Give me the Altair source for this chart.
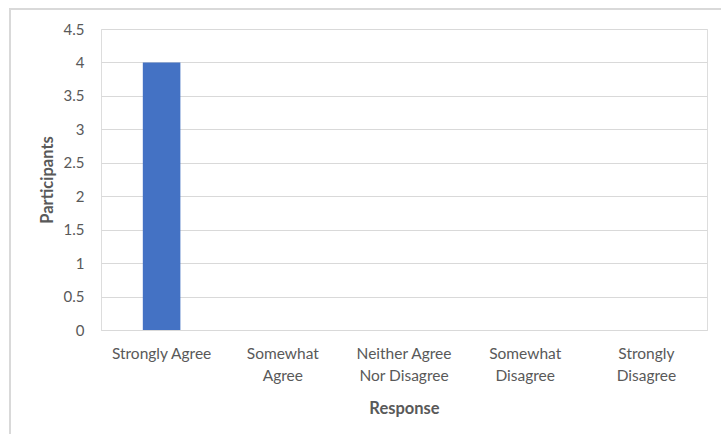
import altair as alt
import pandas as pd

categories = ["Strongly Agree", "Somewhat Agree", "Neither Agree Nor Disagree",
              "Somewhat Disagree", "Strongly Disagree"]
label_lines = [["Strongly Agree"], ["Somewhat", "Agree"], ["Neither Agree", "Nor Disagree"],
               ["Somewhat", "Disagree"], ["Strongly", "Disagree"]]
participants = [4, 0, 0, 0, 0]
y_ticks = [0, 0.5, 1, 1.5, 2, 2.5, 3, 3.5, 4, 4.5]

df = pd.DataFrame({"Response": categories, "Participants": participants})

expr = "datum.label"
for cat, lines in zip(categories, label_lines):
    arr = "[" + ",".join("'" + l + "'" for l in lines) + "]"
    expr = f"datum.label == '{cat}' ? {arr} : ({expr})"

FONT = "Lato"
GREY = "#595959"

bars = alt.Chart(df).mark_bar(color="#4472C4").encode(
    x=alt.X("Response:N", sort=categories,
            scale=alt.Scale(paddingInner=0.69, paddingOuter=0.345),
            axis=alt.Axis(title="Response", labelAngle=0, labelExpr=expr,
                          labelFont=FONT, labelFontSize=15.5, labelColor=GREY,
                          labelLineHeight=22, labelPadding=16, ticks=False,
                          domainColor="#d9d9d9", titleFont=FONT, titleFontSize=16.5,
                          titleFontWeight="bold", titleColor=GREY, titlePadding=17,
                          labelBaseline="top")),
    y=alt.Y("Participants:Q", scale=alt.Scale(domain=[0, 4.5], nice=False),
            axis=alt.Axis(title="Participants", values=y_ticks, domain=False, ticks=False,
                          format="~g",
                          labelFont=FONT, labelFontSize=15, labelColor=GREY,
                          labelPadding=17, gridColor="#d9d9d9",
                          titleFont=FONT, titleFontSize=16.5, titleFontWeight="bold",
                          titleColor=GREY, titlePadding=8)),
)

border = alt.Chart(df).mark_rect(fill=None, stroke="#d9d9d9", strokeWidth=1.5).encode(
    x=alt.value(-91), x2=alt.value(800), y=alt.value(-20), y2=alt.value(500)
)

chart = alt.layer(border, bars).properties(
    width=606, height=301,
    autosize=alt.AutoSizeParams(type="none"),
    padding={"left": 101, "top": 29, "right": 14, "bottom": 104},
).configure_view(stroke=None).configure(background="white")

chart.save("out.html", embed_options={"renderer": "svg", "actions": False})
